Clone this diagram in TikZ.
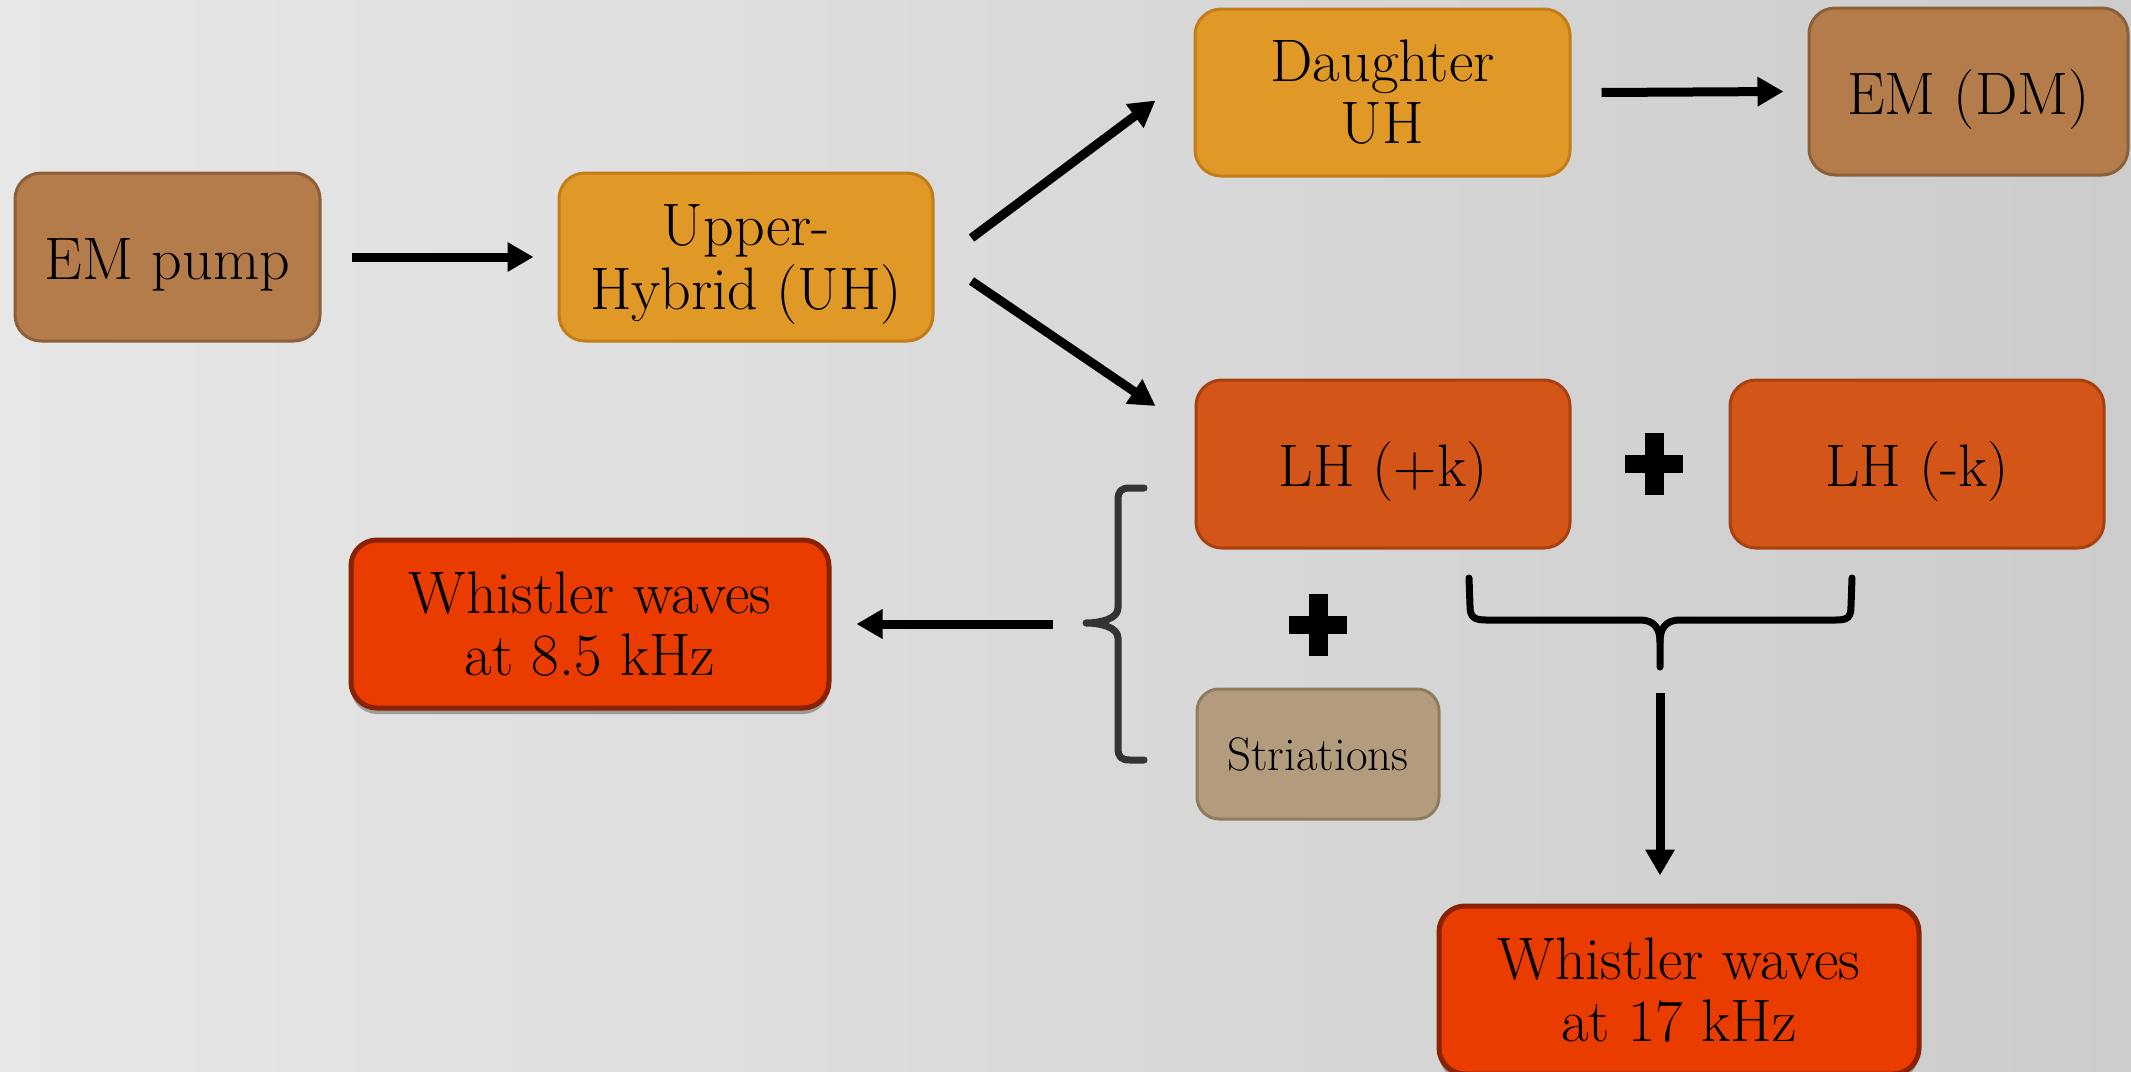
\documentclass[tikz,border=0pt]{standalone}
\usetikzlibrary{arrows.meta,calc,shadows}
\definecolor{bgL}{HTML}{E7E7E7}
\definecolor{bgR}{HTML}{CCCCCC}
\definecolor{cBrown}{HTML}{B37C4A}
\definecolor{cBrownD}{HTML}{8C5F38}
\definecolor{cOrange}{HTML}{E09827}
\definecolor{cOrangeD}{HTML}{C27D18}
\definecolor{cLH}{HTML}{D35618}
\definecolor{cLHD}{HTML}{A8400F}
\definecolor{cWh}{HTML}{EB3C00}
\definecolor{cWhD}{HTML}{8A2200}
\definecolor{cStr}{HTML}{B39C7D}
\definecolor{cStrD}{HTML}{8F7B60}
\definecolor{cBrace}{HTML}{333333}
\newcommand{\lowertext}[1]{\raisebox{-8pt}[\height][\depth]{#1}}
\tikzset{
  box/.style={rounded corners=26pt, draw, line width=3pt, inner sep=0pt, align=center,
    minimum height=168pt, font=\fontsize{60}{62}\selectfont},
  brownbox/.style={box, fill=cBrown, draw=cBrownD},
  orangebox/.style={box, fill=cOrange, draw=cOrangeD},
  lhbox/.style={box, fill=cLH, draw=cLHD, minimum width=374pt},
  whbox/.style={box, fill=cWh, draw=cWhD, line width=5pt, minimum width=478pt,
    drop shadow={shadow xshift=0pt, shadow yshift=-6pt, opacity=0.3, fill=black}},
  strbox/.style={box, fill=cStr, draw=cStrD, minimum width=242pt, minimum height=130pt,
    rounded corners=22pt, font=\fontsize{47}{50}\selectfont},
  arr/.style={line width=9pt, -{Triangle[length=26pt,width=28pt]}},
  plussign/.style={minimum width=58pt, minimum height=62pt, inner sep=0pt,
    path picture={
      \fill ([xshift=-9.5pt]path picture bounding box.north) rectangle ([xshift=9.5pt]path picture bounding box.south);
      \fill ([yshift=-9pt]path picture bounding box.west) rectangle ([yshift=9pt]path picture bounding box.east);
    }},
  bracepath/.style={line width=7pt, line cap=round, line join=round}
}
\begin{document}
\begin{tikzpicture}[x=1pt,y=-1pt]
\useasboundingbox (0,0) rectangle (2131,1071);
\shade[left color=bgL, right color=bgR] (0,0) rectangle (2131,1071);

% nodes
\node[brownbox, minimum width=305pt] (em) at (167.5,257) {\lowertext{EM pump}};
\node[orangebox, minimum width=374pt] (uh) at (746,257)
  {\lowertext{\begin{tabular}{@{}c@{}}Upper-\\Hybrid (UH)\end{tabular}}};
\node[orangebox, minimum width=375pt, minimum height=167pt] (dau) at (1382.5,92.5) {Daughter\\UH};
\node[brownbox, minimum width=319pt, minimum height=167pt] (emdm) at (1968.5,91.5) {\lowertext{EM (DM)}};
\node[lhbox] (lhp) at (1383,464) {\lowertext{LH (+k)}};
\node[lhbox] (lhm) at (1917,464) {\lowertext{LH (-k)}};
\node[plussign] (p1) at (1654,464) {};
\node[plussign] (p2) at (1318,625) {};
\node[strbox] (str) at (1318,754) {Striations};
\node[whbox] (w85) at (590,624) {Whistler waves\\at 8.5 kHz};
\node[whbox, minimum width=480pt] (w17) at (1679,990) {Whistler waves\\at 17 kHz};

% braces
\draw[bracepath, draw=cBrace]
  (1144,488) -- (1130,488) .. controls (1121,488) and (1118,491) .. (1118,500)
  -- (1118,608) .. controls (1118,619) and (1100,623) .. (1086,623)
  .. controls (1100,623) and (1118,627) .. (1118,638)
  -- (1118,748) .. controls (1118,757) and (1121,760) .. (1130,760) -- (1144,760);
\coordinate (lbtip) at (1086,623);
\draw[bracepath, draw=black]
  (1469,578) -- (1470,606) .. controls (1470,617) and (1474,620) .. (1486,620)
  -- (1640,620) .. controls (1654,620) and (1660,628) .. (1660,642) -- (1660,667);
\draw[bracepath, draw=black]
  (1660,642) .. controls (1660,628) and (1666,620) .. (1680,620)
  -- (1836,620) .. controls (1848,620) and (1851,617) .. (1851,606) -- (1852,578);
\coordinate (bbtip) at (1660,667);

% connectors
\draw[arr] ($(em.east)+(30,0)$) -- ($(uh.west)+(-24,0)$);
\draw[arr] ($(uh.east)+(37,-19)$) -- ($(dau.west)+(-38,8)$);
\draw[arr] ($(uh.east)+(37,24)$) -- ($(lhp.west)+(-39,-58)$);
\draw[arr] ($(dau.east)+(30,0)$) -- ($(emdm.west)+(-24,0)$);
\draw[arr] ($(lbtip)+(-33,1)$) -- ($(w85.east)+(25,0)$);
\draw[arr] ($(bbtip)+(0,26)$) -- ($(bbtip |- w17.north)+(0,-28)$);
\end{tikzpicture}
\end{document}
